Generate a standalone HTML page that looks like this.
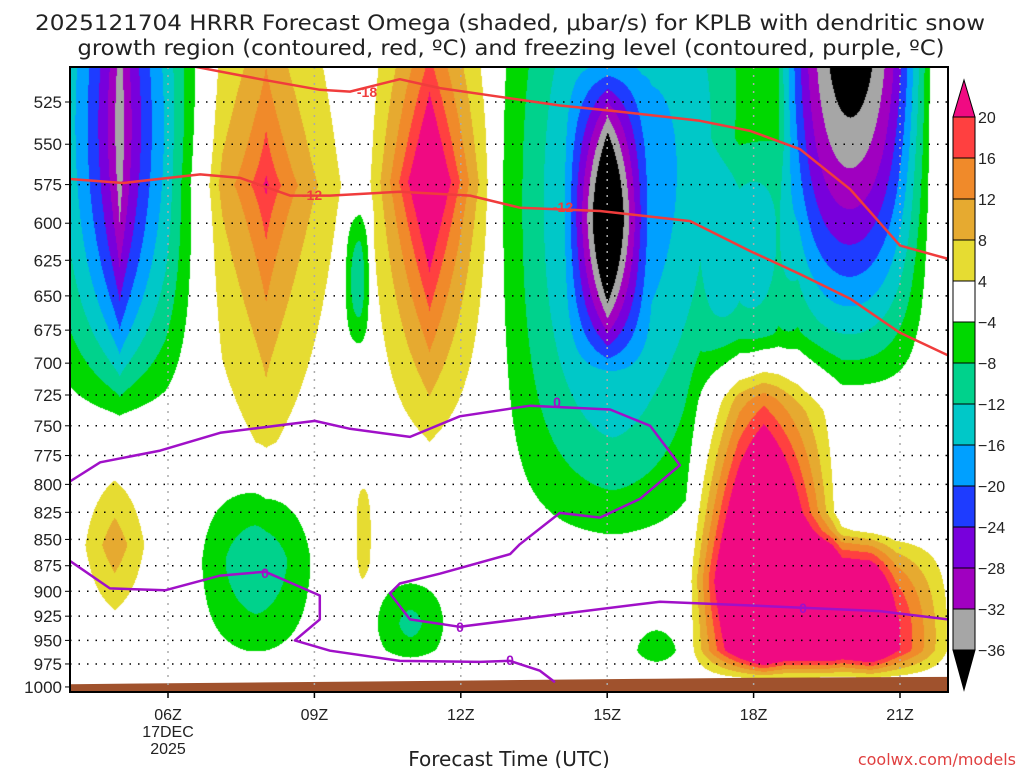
<!DOCTYPE html>
<html><head><meta charset="utf-8"><style>
html,body{margin:0;padding:0;background:#fff;}
#wrap{position:relative;width:1024px;height:768px;overflow:hidden;font-family:"Liberation Sans","DejaVu Sans",sans-serif;}
#field{position:absolute;left:70px;top:67px;}
#ov{position:absolute;left:0;top:0;}
</style></head><body>
<div id="wrap">
<canvas id="field" width="878" height="625"></canvas>
<svg id="ov" width="1024" height="768"></svg>
</div>
<script>
// ---- data ----
const pressureTicks=[525,550,575,600,625,650,675,700,725,750,775,800,825,850,875,900,925,950,975,1000];
const hourTicks=[6,9,12,15,18,21];
const hourTickLabels=["06Z","09Z","12Z","15Z","18Z","21Z"];
const levelValues=[20,16,12,8,4,-4,-8,-12,-16,-20,-24,-28,-32,-36];
const levelColors=["#f00a82","#ff4040","#f08a2a","#e6aa30","#e6dc32","#ffffff","#00d800","#00d28c","#00c8c8","#00a0ff","#1e3cff","#7800dc","#a000c0","#a6a6a6","#000000"];
// omega cells: hour, pressure, hour-radius, pressure-radius, peak, hour-shape, pressure-shape
const cellHour=[5.0,8.0,11.35,9.87,15.0,15.1,20.1,18.5,18.2,20.4,4.9,7.8,10.96,16.0,10.0,19.6,17.9];
const cellPres=[538,575,573,637,597,587,487,515,890,945,855,872,932,962,845,910,630];
const cellHourR=[2.1,2.06,1.42,0.35,0.9,2.6,1.6,2.8,1.6,1.8,0.95,1.5,1.0,0.7,0.25,1.3,1.0];
const cellPresR=[183,236,194,60,100,239,202,180,243,110,96,116,61,41,73,90,90];
const cellPeak=[-36,22,32,-11,-30,-20,-34,-8,55,30,11,-11,-9,-7,6,20,-9];
const cellKh=[0.7,0.7,0.85,2,0.8,1.5,2,2,1,1,1,1.5,1.5,1.5,2,1,2];
const cellKp=[2,0.7,0.8,2,1.5,2,1.5,2,1,2,1,1.5,1.5,1.5,2,1.5,2];
// DGZ (red) contours
const redHours18=[6.55,7.89,9.11,9.73,10.75,11.57,12.8,14.03,15.06,16.9,17.93,18.95,19.98,21.0,21.98];
const redPres18=[505,512,518,519,512,517,522,527,530,536,542,553,578,615,624];
const redHours12=[3.99,5.08,6.66,7.48,8.5,9.32,10.75,12.19,13.21,14.85,16.7,17.93,18.95,19.98,21.0,21.98];
const redPres12=[571.5,574,568.6,570.8,582,582,579.5,582,589.8,592,598.6,618.7,634.6,652,677,694];
// freezing level (purple)
const fzHoursA=[3.99,4.61,5.84,7.07,9.01,9.73,10.96,11.98,13.42,15.06,15.88,16.49,15.67,14.85,14.03,13.21,13.01,11.57,10.75,10.55,10.96,11.98,14.03,16.08,18.13,20.59,21.98];
const fzPresA=[797.5,780.8,770.8,755.8,746,752.5,759.2,742.2,733.6,736.7,750,783.3,812.9,829.8,825.5,854.6,863.9,882.7,892.3,902.1,928.3,935.9,922.9,910.4,914.6,919.8,928.3];
const fzHoursB=[3.99,4.81,5.94,7.07,7.99,9.11,9.11,8.6,9.32,10.75,12.39,13.01,13.62,13.93];
const fzPresB=[870.4,897.1,899,884.6,880.8,904.2,928.3,950,960.9,971.7,972.8,971.7,982.3,994.8];
const terrainHours=[4,8,12,16,18,22];
const terrainPres=[997,995,993,991,990,989];

// ---- axes ----
const X=h=>168+(h-6)*48.8;
const Y=p=>102+907.8*Math.log(p/525);
const PL=70,PT=67,PR=948,PB=692;

// ---- field ----
function g(t,k){t=Math.abs(t);return t>=1?0:1-Math.pow(t,k);}
function field(h,p){
  let v=0;
  for(let i=0;i<cellHour.length;i++){
    const a=g((h-cellHour[i])/cellHourR[i],cellKh[i]);
    if(a<=0)continue;
    const b=g(Math.log(p/cellPres[i])*cellPres[i]/cellPresR[i],cellKp[i]);
    v+=cellPeak[i]*a*b;
  }
  if(p>960){v*=Math.max(0,Math.min(1,(995-p)/35));}
  return v;
}
function hex(c){return [parseInt(c.substr(1,2),16),parseInt(c.substr(3,2),16),parseInt(c.substr(5,2),16)];}
const rgb=levelColors.map(hex);
function colorIdx(v){
  if(v>=20)return 0;if(v>=16)return 1;if(v>=12)return 2;if(v>=8)return 3;if(v>=4)return 4;
  if(v>-4)return 5;if(v>-8)return 6;if(v>-12)return 7;if(v>-16)return 8;if(v>-20)return 9;
  if(v>-24)return 10;if(v>-28)return 11;if(v>-32)return 12;if(v>-36)return 13;return 14;
}
const cv=document.getElementById('field');const ctx=cv.getContext('2d');
const W=cv.width,H=cv.height;const img=ctx.createImageData(W,H);
for(let j=0;j<H;j++){
  const p=525*Math.exp(((j+PT)-102)/907.8);
  for(let i=0;i<W;i++){
    const h=6+((i+PL)-168)/48.8;
    const c=rgb[colorIdx(field(h,p))];
    const o=(j*W+i)*4;img.data[o]=c[0];img.data[o+1]=c[1];img.data[o+2]=c[2];img.data[o+3]=255;
  }
}
ctx.putImageData(img,0,0);

// ---- overlay ----
const svg=document.getElementById('ov');const NS='http://www.w3.org/2000/svg';
function el(tag,attrs,parent){const e=document.createElementNS(NS,tag);for(const k in attrs)e.setAttribute(k,attrs[k]);(parent||svg).appendChild(e);return e;}
function txt(s,attrs){const e=el('text',attrs);e.textContent=s;return e;}

// terrain
let tp='M'+PL+','+PB;
for(let i=0;i<terrainHours.length;i++){tp+=' L'+X(terrainHours[i]).toFixed(1)+','+Y(terrainPres[i]).toFixed(1);}
tp+=' L'+PR+','+PB+' Z';
const terr=el('path',{d:tp,fill:'#a0522d'});



// grid
pressureTicks.forEach(p=>{
  const y=Y(p);
  if(p<1000){const gl=el('line',{x1:PL,x2:PR,y1:y,y2:y,stroke:'#000','stroke-width':1.5,'stroke-dasharray':'1.5,7'});
  
  }
  const t=el('line',{x1:PL-5,x2:PL,y1:y,y2:y,stroke:'#000','stroke-width':1});
  
  
  const lb=txt(String(p),{x:PL-8,y:y+6,'text-anchor':'end','font-size':17,fill:'#222'});
  
  
});
hourTicks.forEach((h,i)=>{
  const x=X(h);
  const gl=el('line',{x1:x,x2:x,y1:PT,y2:PB,stroke:'#aaa','stroke-width':1.5,'stroke-dasharray':'2,6'});
  
  
  const t=el('line',{x1:x,x2:x,y1:PB,y2:PB+6,stroke:'#000','stroke-width':1.5});
  
  
  const lb=txt(hourTickLabels[i],{x:x,y:720,'text-anchor':'middle','font-size':16,fill:'#222'});
  
  
});

function linePath(hs,ps){return hs.map((h,i)=>(i?'L':'M')+X(h).toFixed(1)+','+Y(ps[i]).toFixed(1)).join(' ');}
function clipLine(d,color,name){
  const pth=el('path',{d:d,fill:'none',stroke:color,'stroke-width':2.5,'clip-path':'url(#pc)','stroke-linejoin':'round'});
  
  
}
const defs=el('defs',{});const cp=el('clipPath',{id:'pc'},defs);el('rect',{x:PL,y:PT,width:PR-PL,height:PB-PT},cp);
clipLine(linePath(redHours18,redPres18),'#f03c3c','dgz-minus18-contour');
clipLine(linePath(redHours12,redPres12),'#f03c3c','dgz-minus12-contour');
clipLine(linePath(fzHoursA,fzPresA),'#a010c8','freezing-level-contour-a');
clipLine(linePath(fzHoursB,fzPresB),'#a010c8','freezing-level-contour-b');

function clabel(s,x,y,color,name){
  const t=txt(s,{x:x,y:y+5,'text-anchor':'middle','font-size':14,'font-weight':'bold',fill:color});
  
  
}
clabel('-18',367,92,'#f03c3c','label-minus18');
clabel('-12',312,195,'#f03c3c','label-minus12-a');
clabel('-12',563,207,'#f03c3c','label-minus12-b');
clabel('0',557,402,'#a010c8','label-zero-a');
clabel('0',460,627,'#a010c8','label-zero-b');
clabel('0',803,608,'#a010c8','label-zero-c');
clabel('0',265,573,'#a010c8','label-zero-d');
clabel('0',510,660,'#a010c8','label-zero-e');

const fr=el('rect',{x:PL,y:PT,width:PR-PL,height:PB-PT,fill:'none',stroke:'#000','stroke-width':2});



// colorbar
const cbX=953,cbW=22,cbTop=117,cbStep=41;
const tri1=el('polygon',{points:`${cbX},${cbTop} ${cbX+cbW},${cbTop} ${cbX+cbW/2},80`,fill:levelColors[0],stroke:'#000','stroke-width':1});


for(let i=1;i<levelColors.length-1;i++){
  const r=el('rect',{x:cbX,y:cbTop+(i-1)*cbStep,width:cbW,height:cbStep,fill:levelColors[i],stroke:'#000','stroke-width':1});
  
  
}
const cbBot=cbTop+(levelColors.length-2)*cbStep;
const tri2=el('polygon',{points:`${cbX},${cbBot} ${cbX+cbW},${cbBot} ${cbX+cbW/2},690`,fill:'#000',stroke:'#000','stroke-width':1});


levelValues.forEach((v,i)=>{
  const t=txt(v<0?'\u2212'+(-v):String(v),{x:978,y:cbTop+i*cbStep+6,'font-size':16,fill:'#222'});
  
  
});
</script>
<svg width="1024" height="768" style="position:absolute;left:0;top:0;pointer-events:none">
<text x="510" y="30" text-anchor="middle" font-size="21" fill="#222" textLength="950" lengthAdjust="spacingAndGlyphs" font-family="DejaVu Sans, Liberation Sans, sans-serif">2025121704 HRRR Forecast Omega (shaded, μbar/s) for KPLB with dendritic snow</text>
<text x="511" y="55" text-anchor="middle" font-size="21" fill="#222" textLength="867" lengthAdjust="spacingAndGlyphs" font-family="DejaVu Sans, Liberation Sans, sans-serif">growth region (contoured, red, ºC) and freezing level (contoured, purple, ºC)</text>
<text x="168" y="737" text-anchor="middle" font-size="16" fill="#222" font-family="Liberation Sans, sans-serif">17DEC</text>
<text x="168" y="754" text-anchor="middle" font-size="16" fill="#222" font-family="Liberation Sans, sans-serif">2025</text>
<text x="509" y="766" text-anchor="middle" font-size="20" fill="#222" font-family="DejaVu Sans, Liberation Sans, sans-serif">Forecast Time (UTC)</text>
<text x="1016" y="765" text-anchor="end" font-size="16" fill="#e04040" font-family="DejaVu Sans, Liberation Sans, sans-serif">coolwx.com/models</text>
</svg>
</body></html>
